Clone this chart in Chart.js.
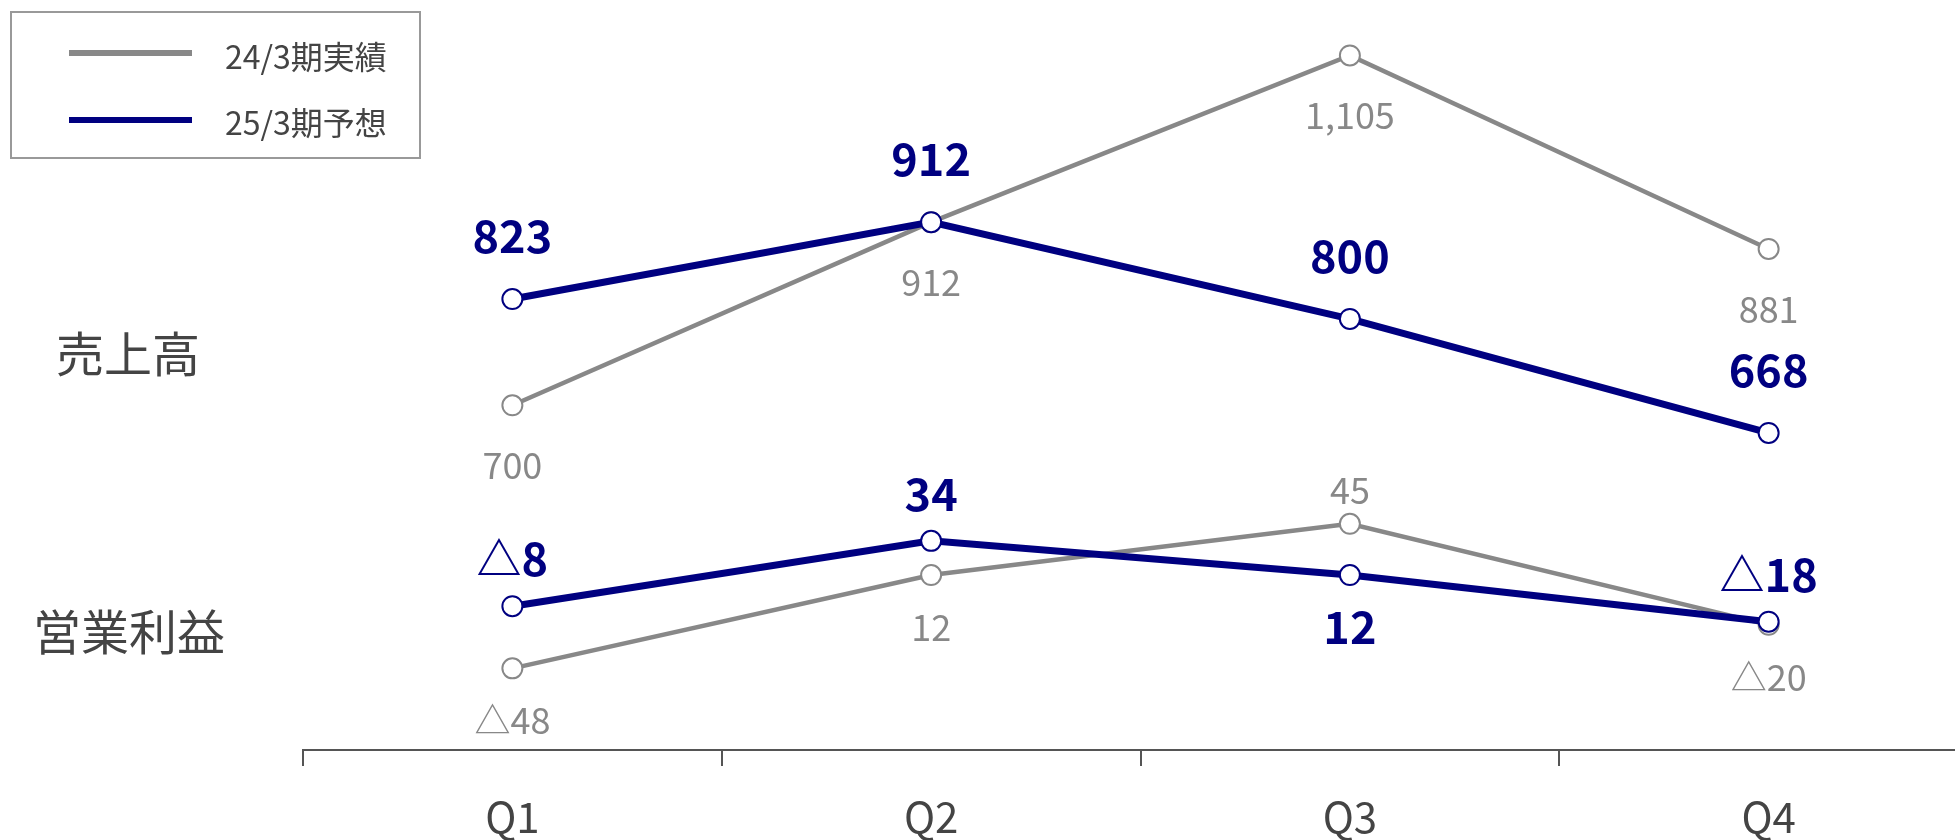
<!DOCTYPE html>
<html>
<head>
<meta charset="utf-8">
<script src="https://cdn.jsdelivr.net/npm/chart.js@4.4.1/dist/chart.umd.min.js"></script>
<style>
  html, body { margin: 0; padding: 0; background: #fff; overflow: hidden; }
  #wrap { position: relative; width: 1990px; height: 840px; font-family: "Noto Sans CJK JP", sans-serif; }
  .legend { position: absolute; left: 10px; top: 11px; width: 407px; height: 144px; border: 2px solid #999; }
  .swatch { position: absolute; left: 57px; width: 123px; height: 6px; }
  .ltext { position: absolute; left: 213px; font-size: 32px; line-height: 32px; color: #444; white-space: nowrap; }
  .row { position: absolute; width: 256px; text-align: center; font-size: 48px; line-height: 48px; color: #444; }
</style>
</head>
<body>
<div id="wrap">
  <canvas id="Gyoseki"></canvas>
  <div class="legend">
    <div class="swatch" style="top:37px;background:#888888"></div>
    <div class="ltext" id="lg0" style="top:26px"></div>
    <div class="swatch" style="top:104px;background:#000080"></div>
    <div class="ltext" id="lg1" style="top:92px"></div>
  </div>
  <div class="row" id="row0" style="left:0px;top:327px"></div>
  <div class="row" id="row1" style="left:1px;top:605px"></div>
</div>
<script>
// data
const quarters = ['Q1', 'Q2', 'Q3', 'Q4'];
const seriesNames = ['24/3期実績', '25/3期予想'];
const rowNames = ['売上高', '営業利益'];

const sales_jisseki = [700, 912, 1105, 881];
const sales_yosou = [823, 912, 800, 668];
const rieki_jisseki = [-48, 12, 45, -20];
const rieki_yosou = [-8, 34, 12, -18];

// where the value label sits
const sales_jisseki_pos = ['below', 'below', 'below', 'below'];
const sales_yosou_pos = ['above', 'above', 'above', 'above'];
const rieki_jisseki_pos = ['below', 'below', 'above', 'below'];
const rieki_yosou_pos = ['above', 'above', 'below', 'above'];

document.getElementById('lg0').textContent = seriesNames[0];
document.getElementById('lg1').textContent = seriesNames[1];
document.getElementById('row0').textContent = rowNames[0];
document.getElementById('row1').textContent = rowNames[1];

const GRAY = '#888888';
const NAVY = '#000080';
const FONT = '"Noto Sans CJK JP", sans-serif';

function fmt(v) {
    if (v < 0) return '△' + Math.abs(v);
    return v.toLocaleString('en-US');
}

// value labels above/below each point
const valueLabels = {
    id: 'valueLabels',
    afterDatasetsDraw(chart) {
        const ctx = chart.ctx;
        chart.data.datasets.forEach((ds, i) => {
            const meta = chart.getDatasetMeta(i);
            ctx.save();
            ctx.font = ds.lblFont;
            ctx.fillStyle = ds.borderColor;
            ctx.textAlign = 'center';
            ctx.textBaseline = 'middle';
            meta.data.forEach((pt, j) => {
                const up = ds.lblPos[j] == 'above';
                const y = up ? pt.y - ds.lblGap[0] : pt.y + ds.lblGap[1];
                ctx.fillText(fmt(ds.data[j]), pt.x, y);
            });
            ctx.restore();
        });
    }
};

function lineSet(data, color, width, axis, pos, font, gap) {
    return {
        data: data,
        yAxisID: axis,
        borderColor: color,
        borderWidth: width,
        pointRadius: 10,
        pointHoverRadius: 10,
        pointBorderWidth: 2,
        pointBackgroundColor: '#ffffff',
        pointBorderColor: color,
        tension: 0,
        lblPos: pos,
        lblFont: font,
        lblGap: gap
    };
}

Chart.defaults.font.family = FONT;

const ctx_gyoseki = document.getElementById('Gyoseki');
new Chart(ctx_gyoseki, {
    type: 'line',
    data: {
        labels: quarters,
        datasets: [
            // navy first so it is drawn on top
            lineSet(sales_yosou, NAVY, 7, 'ySales', sales_yosou_pos, 'bold 45px ' + FONT, [63, 63]),
            lineSet(rieki_yosou, NAVY, 7, 'yRieki', rieki_yosou_pos, 'bold 45px ' + FONT, [47, 52]),
            lineSet(sales_jisseki, GRAY, 4.5, 'ySales', sales_jisseki_pos, '36px ' + FONT, [60, 60]),
            lineSet(rieki_jisseki, GRAY, 4.5, 'yRieki', rieki_jisseki_pos, '36px ' + FONT, [33, 52])
        ]
    },
    options: {
        responsive: true,
        maintainAspectRatio: false,
        animation: false,
        events: [],
        layout: { padding: { left: 303, right: 11, top: 20, bottom: 0 } },
        plugins: {
            legend: { display: false },
            tooltip: { enabled: false }
        },
        scales: {
            x: {
                offset: true,
                grid: { display: true, drawOnChartArea: false, offset: true, tickLength: 16, color: '#555555', lineWidth: 2 },
                border: { display: true, color: '#555555', width: 2 },
                ticks: { color: '#444444', font: { size: 42 }, padding: 26, maxRotation: 0 },
                afterFit(scale) { scale.height = 90; }
            },
            ySales: { display: false, min: 301, max: 1146 },
            yRieki: { display: false, min: -100.5, max: 369 }
        }
    },
    plugins: [valueLabels]
});
</script>
</body>
</html>
